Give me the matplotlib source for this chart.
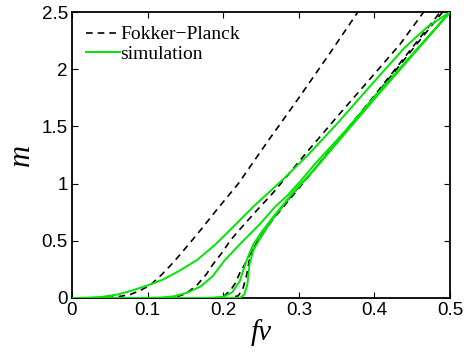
import matplotlib
matplotlib.use("Agg")
import matplotlib.pyplot as plt

# Fokker-Planck curves (dashed)
fp1_x = [0, 0.04, 0.06, 0.077, 0.09, 0.103, 0.118, 0.134, 0.152, 0.172, 0.195, 0.22, 0.26, 0.3, 0.34, 0.378, 0.42]
fp1_y = [0, 0, 0.01, 0.03, 0.065, 0.11, 0.2, 0.31, 0.45, 0.61, 0.8, 1.0, 1.38, 1.75, 2.13, 2.5, 2.9]

fp2_x = [0, 0.12, 0.13, 0.139, 0.15, 0.165, 0.178, 0.186, 0.2, 0.209, 0.222, 0.245, 0.266, 0.31, 0.35, 0.4, 0.434, 0.465, 0.5]
fp2_y = [0, 0, 0.003, 0.012, 0.035, 0.11, 0.21, 0.29, 0.41, 0.5, 0.6, 0.77, 0.92, 1.27, 1.58, 1.96, 2.22, 2.5, 2.8]

fp3_x = [0, 0.19, 0.2, 0.21, 0.216, 0.222, 0.229, 0.237, 0.246, 0.265, 0.291, 0.321, 0.4, 0.487, 0.5]
fp3_y = [0, 0, 0.01, 0.07, 0.13, 0.22, 0.3, 0.4, 0.5, 0.69, 0.9, 1.13, 1.77, 2.5, 2.6]

fp4_x = [0, 0.21, 0.22, 0.226, 0.231, 0.235, 0.241, 0.25, 0.265, 0.29, 0.32, 0.4, 0.49, 0.5]
fp4_y = [0, 0, 0.02, 0.08, 0.2, 0.35, 0.45, 0.54, 0.68, 0.88, 1.12, 1.76, 2.5, 2.58]

# simulation curves (green)
sim1_x = [0, 0.02, 0.04, 0.06, 0.077, 0.1, 0.12, 0.14, 0.165, 0.19, 0.213, 0.24, 0.278, 0.312, 0.35, 0.398, 0.44, 0.47, 0.5]
sim1_y = [0, 0.002, 0.01, 0.03, 0.06, 0.11, 0.16, 0.23, 0.33, 0.47, 0.62, 0.8, 1.03, 1.25, 1.52, 1.88, 2.19, 2.37, 2.5]

sim2_x = [0, 0.1, 0.12, 0.135, 0.152, 0.165, 0.17, 0.186, 0.202, 0.222, 0.249, 0.269, 0.284, 0.302, 0.321, 0.36, 0.4, 0.45, 0.5]
sim2_y = [0, 0, 0.005, 0.015, 0.045, 0.085, 0.1, 0.19, 0.33, 0.47, 0.65, 0.8, 0.89, 1.02, 1.17, 1.45, 1.76, 2.13, 2.5]

sim3_x = [0, 0.18, 0.2, 0.212, 0.222, 0.231, 0.24, 0.25, 0.265, 0.29, 0.32, 0.4, 0.5]
sim3_y = [0, 0, 0.01, 0.05, 0.15, 0.33, 0.47, 0.57, 0.7, 0.9, 1.12, 1.74, 2.5]

sim4_x = [0, 0.222, 0.228, 0.232, 0.235, 0.24, 0.247, 0.259, 0.27, 0.292, 0.32, 0.4, 0.5]
sim4_y = [0, 0, 0.03, 0.12, 0.3, 0.42, 0.5, 0.63, 0.73, 0.92, 1.12, 1.75, 2.5]

x_ticks = [0, 0.1, 0.2, 0.3, 0.4, 0.5]
x_tick_labels = ["0", "0.1", "0.2", "0.3", "0.4", "0.5"]
y_ticks = [0, 0.5, 1, 1.5, 2, 2.5]
y_tick_labels = ["0", "0.5", "1", "1.5", "2", "2.5"]

green = "#00e600"

fig = plt.figure(figsize=(4.72, 3.56), dpi=100)
ax = fig.add_axes([0.1525, 0.163, 0.801, 0.803])

fp_curves = [(fp1_x, fp1_y), (fp2_x, fp2_y), (fp3_x, fp3_y), (fp4_x, fp4_y)]
sim_curves = [(sim1_x, sim1_y), (sim2_x, sim2_y), (sim3_x, sim3_y), (sim4_x, sim4_y)]

for i, (xs, ys) in enumerate(fp_curves):
    ax.plot(xs, ys, color="black", lw=1.2, dashes=(4, 3),
            label="Fokker\u2212Planck" if i == 0 else None, zorder=2)
for i, (xs, ys) in enumerate(sim_curves):
    ax.plot(xs, ys, color=green, lw=1.4,
            label="simulation" if i == 0 else None, zorder=3)

ax.set_xlim(0, 0.5)
ax.set_ylim(0, 2.5)
ax.set_xticks(x_ticks)
ax.set_xticklabels(x_tick_labels, fontfamily="Liberation Sans", fontsize=13.5)
ax.set_yticks(y_ticks)
ax.set_yticklabels(y_tick_labels, fontfamily="Liberation Sans", fontsize=13.5)
ax.tick_params(direction="in", length=4, width=0.8, top=True, right=True, pad=3)
for sp in ax.spines.values():
    sp.set_linewidth(1.3)

ax.set_xlabel("f\u03bd", fontfamily="Liberation Serif", style="italic", fontsize=21, labelpad=0)
ax.set_ylabel("m", fontfamily="Liberation Serif", style="italic", fontsize=22, labelpad=4)

ax.legend(loc="upper left", frameon=False, prop={"family": "Liberation Serif", "size": 14},
          handlelength=1.75, handletextpad=0.05, labelspacing=0.1, borderaxespad=0.5,
          borderpad=0.2)

fig.savefig("out.png", dpi=100)
